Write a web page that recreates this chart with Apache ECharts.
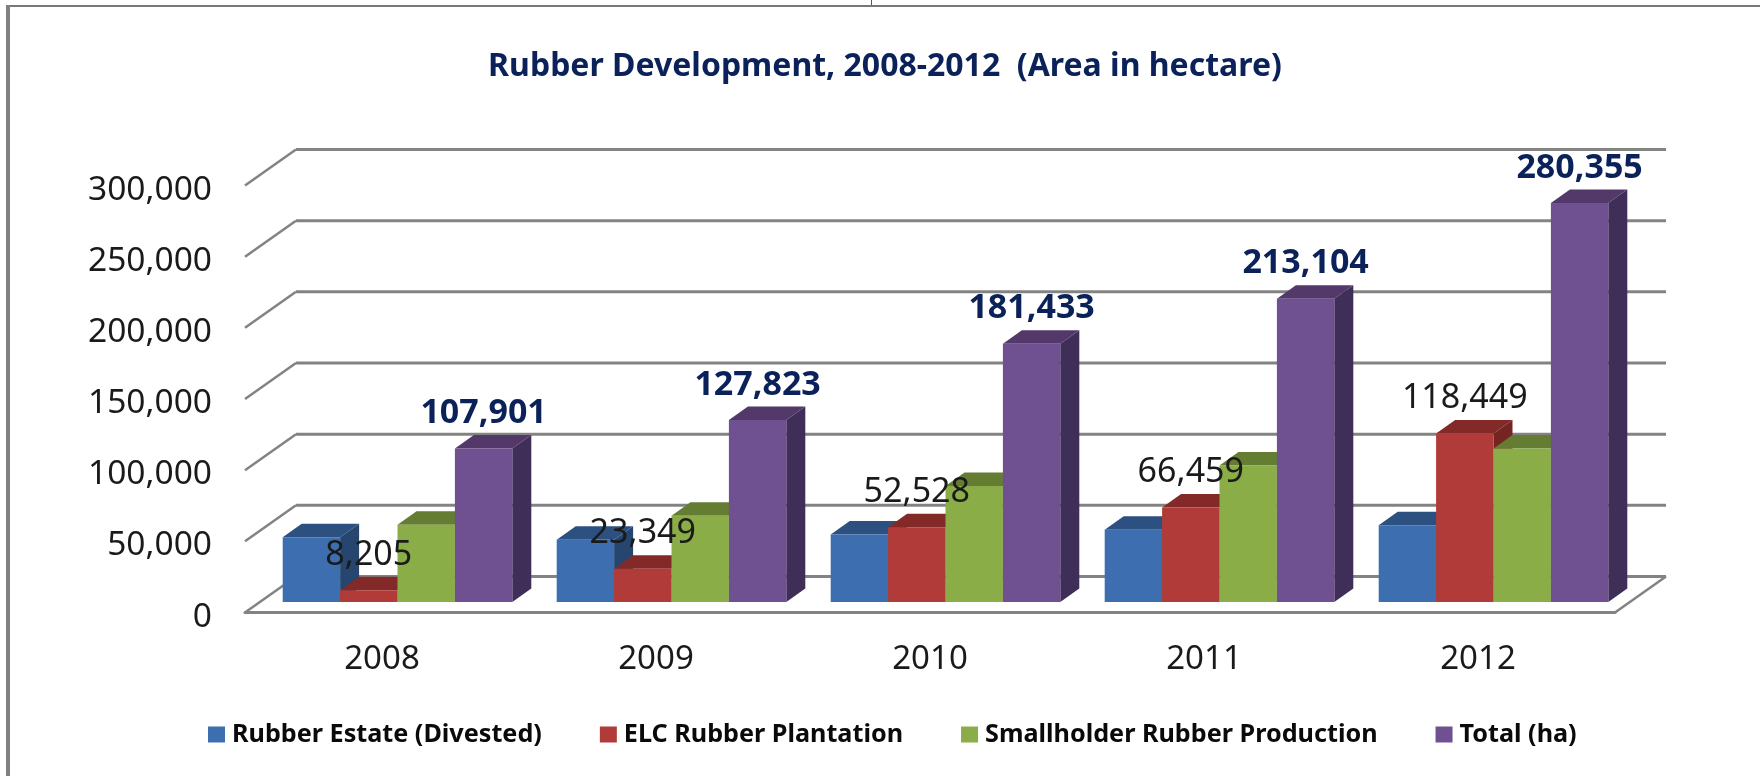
<!DOCTYPE html>
<html>
<head>
<meta charset="utf-8">
<style>html,body{margin:0;padding:0;background:#fff}#main{width:1760px;height:776px}</style>
<script src="https://cdn.jsdelivr.net/npm/echarts@6/dist/echarts.min.js"></script>
</head>
<body>
<div id="main"></div>
<script>
var years = ['2008', '2009', '2010', '2011', '2012'];
var estate = [45500, 43800, 47400, 50700, 54000];
var elc = [8205, 23349, 52528, 66459, 118449];
var smallholder = [54196, 60674, 81505, 95945, 107906];
var total = [107901, 127823, 181433, 213104, 280355];
var yTicks = [0, 50000, 100000, 150000, 200000, 250000, 300000];

// fake 3d: wall depth and how far the bars sit in from the front plane
var DEPTH_X = 51, DEPTH_Y = 36;
var BAR_W = 57.4, BAR_DX = 19, BAR_DY = 13.5;
var IN_X = 37.7, IN_Y = 10.5;
var LINE = '#838383';
var FONT = '"Noto Sans", sans-serif';

function wallItem(params, api)
{
	var cs = params.coordSys;
	var y = api.coord([0, api.value(0)])[1];
	var x0 = cs.x, x1 = cs.x + cs.width;
	var style = { stroke: LINE, fill: null, lineWidth: 3 };
	var children = [
		{ type: 'line', shape: { x1: x0, y1: y, x2: x0 + DEPTH_X, y2: y - DEPTH_Y }, style: { stroke: LINE, lineWidth: 2.5 } },
		{ type: 'line', shape: { x1: x0 + DEPTH_X, y1: y - DEPTH_Y, x2: x1 + DEPTH_X, y2: y - DEPTH_Y }, style: style }
	];
	if (api.value(0) === 0)
		children.push({ type: 'line', shape: { x1: x1, y1: y, x2: x1 + DEPTH_X, y2: y - DEPTH_Y }, style: { stroke: LINE, lineWidth: 2.5 } });
	return { type: 'group', children: children };
}

function barSeries(name, values, slot, front, top, side)
{
	return {
		name: name,
		type: 'custom',
		z: 3 + slot,
		itemStyle: { color: front },
		encode: { x: 0, y: 1 },
		data: values.map(function(v, i) { return [i, v]; }),
		renderItem: function(params, api)
		{
			var up = api.coord([api.value(0), api.value(1)]);
			var base = api.coord([api.value(0), 0]);
			var band = api.size([1, 0])[0];
			var l = base[0] - band / 2 + IN_X + slot * BAR_W;
			var r = l + BAR_W;
			var b = base[1] - IN_Y;
			var t = up[1] - IN_Y;
			return {
				type: 'group',
				children: [
					{ type: 'polygon', shape: { points: [[r, b], [r + BAR_DX, b - BAR_DY], [r + BAR_DX, t - BAR_DY], [r, t]] }, style: { fill: side } },
					{ type: 'polygon', shape: { points: [[l, t], [l + BAR_DX, t - BAR_DY], [r + BAR_DX, t - BAR_DY], [r, t]] }, style: { fill: top } },
					{ type: 'rect', shape: { x: l, y: t, width: BAR_W, height: b - t }, style: { fill: front } }
				]
			};
		}
	};
}

function labelSeries(values, slot, weight, color, size)
{
	return {
		type: 'custom',
		z: 20,
		encode: { x: 0, y: 1 },
		data: values.map(function(v, i) { return [i, v]; }),
		renderItem: function(params, api)
		{
			var up = api.coord([api.value(0), api.value(1)]);
			var base = api.coord([api.value(0), 0]);
			var band = api.size([1, 0])[0];
			var cx = base[0] - band / 2 + IN_X + (slot + 0.5) * BAR_W;
			return {
				type: 'text',
				style: {
					x: cx, y: up[1] - IN_Y - 35,
					text: echarts.format.addCommas(api.value(1)),
					fill: color, align: 'center', verticalAlign: 'middle',
					font: weight + ' ' + size + 'px ' + FONT
				}
			};
		}
	};
}

var chart = echarts.init(document.getElementById('main'), null, { renderer: 'canvas' });
chart.setOption({
	animation: false,
	backgroundColor: '#ffffff',
	title: {
		text: 'Rubber Development, 2008-2012  (Area in hectare)',
		left: 880, top: 62, textAlign: 'center', textVerticalAlign: 'middle',
		textStyle: { fontFamily: FONT, fontWeight: 'bold', fontSize: 32, color: '#0a2259' }
	},
	legend: {
		left: 203, top: 717,
		data: ['Rubber Estate (Divested)', 'ELC Rubber Plantation', 'Smallholder Rubber Production', 'Total (ha)'],
		icon: 'rect', itemWidth: 17, itemHeight: 16, itemGap: 58,
		textStyle: { fontFamily: FONT, fontWeight: 'bold', fontSize: 25.2, color: '#0a0a0a', padding: [0, 0, 0, 2] }
	},
	grid: { left: 245, width: 1370, top: 185.5, height: 427 },
	xAxis: {
		type: 'category',
		data: years,
		axisLine: { lineStyle: { color: LINE, width: 3 } },
		axisTick: { show: false },
		axisLabel: { fontFamily: FONT, fontSize: 33, color: '#1a1a1a', margin: 31 }
	},
	yAxis: {
		type: 'value',
		min: 0, max: 300000, interval: 50000,
		axisLine: { show: false },
		axisTick: { show: false },
		splitLine: { show: false },
		axisLabel: {
			margin: 33,
			formatter: function(v) { return '{v|' + echarts.format.addCommas(v) + '}'; },
			rich: { v: { fontFamily: FONT, fontSize: 33.5, color: '#1a1a1a', padding: [9, 0, 0, 0] } }
		}
	},
	series: [
		{
			type: 'custom', z: 1, silent: true,
			encode: { y: 0 },
			data: yTicks.map(function(v) { return [v]; }),
			renderItem: wallItem
		},
		barSeries('Rubber Estate (Divested)', estate, 0, '#3c6eb0', '#2c5080', '#264670'),
		barSeries('ELC Rubber Plantation', elc, 1, '#b13b38', '#832a28', '#762422'),
		barSeries('Smallholder Rubber Production', smallholder, 2, '#8aad47', '#647d33', '#5a7030'),
		barSeries('Total (ha)', total, 3, '#6f5090', '#53396a', '#3f2e57'),
		labelSeries(elc, 1, 'normal', '#1a1a1a', 34),
		labelSeries(total, 3, 'bold', '#0a2259', 34)
	],
	graphic: [
		{ type: 'line', silent: true, shape: { x1: 8, y1: 6, x2: 1760, y2: 6 }, style: { stroke: '#777777', lineWidth: 2 } },
		{ type: 'line', silent: true, shape: { x1: 8, y1: 5, x2: 8, y2: 776 }, style: { stroke: '#808080', lineWidth: 4 } },
		{ type: 'line', silent: true, shape: { x1: 871.5, y1: 0, x2: 871.5, y2: 5 }, style: { stroke: '#555555', lineWidth: 1 } }
	]
});
</script>
</body>
</html>
